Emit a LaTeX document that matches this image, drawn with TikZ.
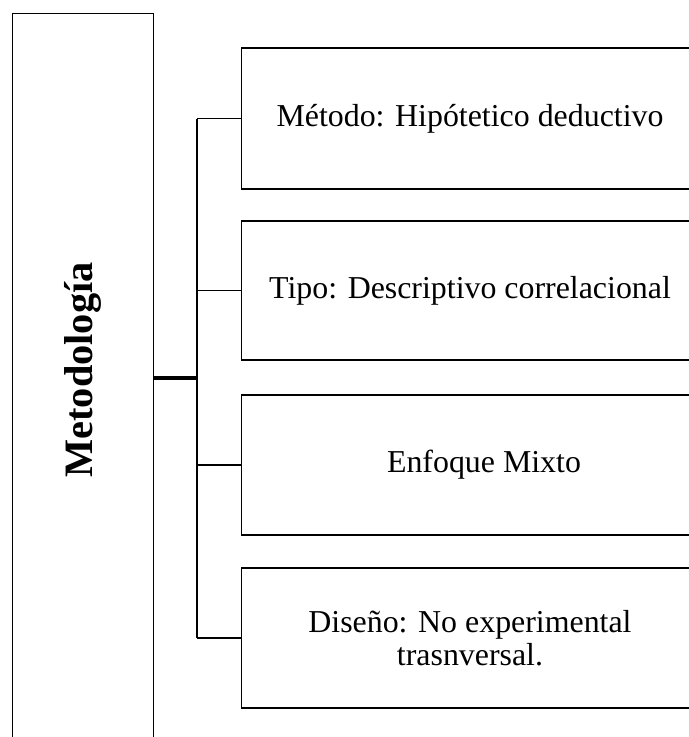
\documentclass[tikz,border=0pt]{standalone}
\usepackage{fontspec}
\setmainfont{Liberation Serif}
\begin{document}
\begin{tikzpicture}[x=1bp,y=-1bp,
  box/.style={draw,line width=1.8bp},
  thin/.style={line width=1.8bp},
  thick/.style={line width=3.2bp},
  lbl/.style={font=\fontsize{32}{33}\selectfont,align=center}]
\useasboundingbox (0,0) rectangle (689,737);
\clip (0,0) rectangle (689,737);
\draw[box] (12.5,760) -- (12.5,13.5) -- (153.5,13.5) -- (153.5,760);
\node[font=\fontsize{40.5}{44}\selectfont\bfseries,rotate=90] (m) at (83,370) {Metodología};
\coordinate (mr) at (153.5,378);
\draw[box] (241.5,48) rectangle (720,189);
\draw[box] (241.5,221) rectangle (720,360);
\draw[box] (241.5,395) rectangle (720,535);
\draw[box] (241.5,568) rectangle (720,708);
\node[lbl] (b1) at (470,119) {Método: Hipótetico deductivo};
\node[lbl] (b2) at (470,291) {Tipo: Descriptivo correlacional};
\node[lbl] (b3) at (484,465) {Enfoque Mixto};
\node[lbl] (b4) at (470,638) {Diseño: No experimental\\trasnversal.};
\coordinate (j) at (197,378);
\coordinate (t) at (197,118.5);
\coordinate (b) at (197,638);
\draw[thick] (mr) -- (j);
\draw[thin] (t) -- (b);
\draw[thin] (t) -- (241.5,118.5);
\draw[thin] (197,290.5) -- (241.5,290.5);
\draw[thin] (197,465) -- (241.5,465);
\draw[thin] (b) -- (241.5,638);
\end{tikzpicture}
\end{document}
